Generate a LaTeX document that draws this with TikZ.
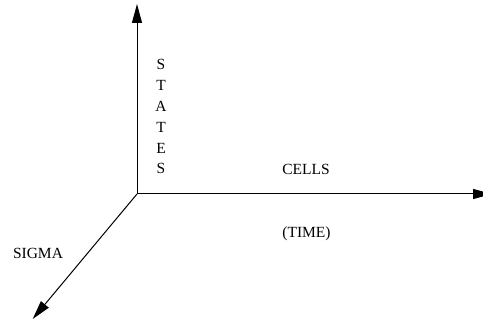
\documentclass[tikz,border=0pt]{standalone}
\usepackage{fontspec}
\setmainfont{Liberation Serif}
\usetikzlibrary{arrows.meta}
\begin{document}
\begin{tikzpicture}[x=1pt,y=-1pt,
  axis/.style={line width=1pt,-{Triangle[length=19pt,width=10pt]}},
  lbl/.style={inner sep=0pt,anchor=base,font=\fontsize{15.5}{18}\selectfont}]
\useasboundingbox (0,0) rectangle (483,320);
\clip (0,0) rectangle (483,320);
\coordinate (O) at (137,194);
\coordinate (top) at (137,4);
\coordinate (right) at (492,194);
\coordinate (bl) at (32.7,319);
\draw[axis] (O) -- (top);
\draw[axis] (O) -- (right);
\draw[axis] (O) -- (bl);
\foreach \l [count=\i from 0] in {S,T,A,T,E,S}
  \node[lbl,name=st\i] at (161,{70+20.8*\i}) {\l};
\node[lbl] (cells) at (306,174.3) {CELLS};
\node[lbl] (time) at (306.5,237.5) {(TIME)};
\node[lbl] (sigma) at (38,259) {SIGMA};
\end{tikzpicture}
\end{document}
